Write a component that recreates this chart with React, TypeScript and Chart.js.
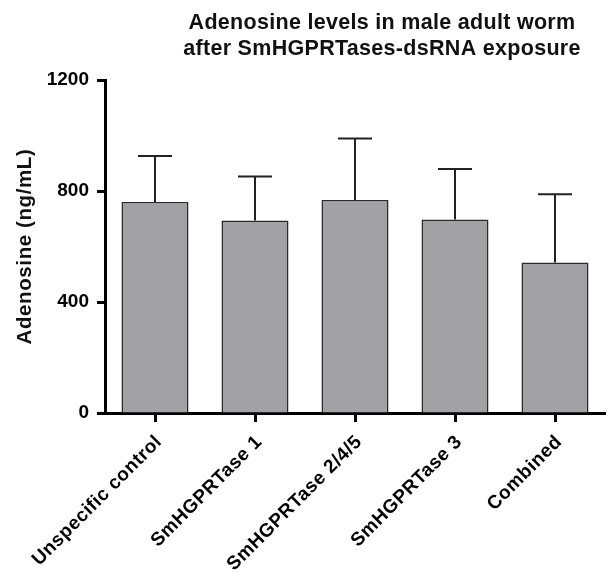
import React, { useEffect, useRef } from "react";
import { Chart, registerables } from "chart.js";

Chart.register(...registerables);

const categories = [
  "Unspecific control",
  "SmHGPRTase 1",
  "SmHGPRTase 2/4/5",
  "SmHGPRTase 3",
  "Combined",
];
const means = [760, 694, 768, 697, 542];
const errors = [166, 158, 221, 182, 246];
const yTicks = [0, 400, 800, 1200];
const titleLines = [
  "Adenosine levels in male adult worm",
  "after SmHGPRTases-dsRNA exposure",
];
const yTitle = "Adenosine (ng/mL)";

const FONT = "'Liberation Sans', Arial, sans-serif";

const errorBarPlugin = {
  id: "errorBars",
  afterDatasetsDraw(chart: any) {
    const meta = chart.getDatasetMeta(0);
    const yScale = chart.scales.y;
    const ctx = chart.ctx;
    ctx.save();
    ctx.strokeStyle = "#222";
    ctx.lineWidth = 2;
    meta.data.forEach((el: any, i: number) => {
      const top = yScale.getPixelForValue(means[i] + errors[i]);
      const x = el.x;
      ctx.beginPath();
      ctx.moveTo(x, el.y);
      ctx.lineTo(x, top);
      ctx.moveTo(x - 17, top);
      ctx.lineTo(x + 17, top);
      ctx.stroke();
    });
    ctx.restore();
  },
};

const textPlugin = {
  id: "customText",
  afterDraw(chart: any) {
    const ctx = chart.ctx;
    const area = chart.chartArea;
    const xScale = chart.scales.x;
    ctx.save();
    ctx.fillStyle = "#111";
    // chart title
    ctx.font = `bold 21.5px ${FONT}`;
    (ctx as any).letterSpacing = "0.3px";
    ctx.textAlign = "center";
    ctx.textBaseline = "alphabetic";
    titleLines.forEach((line, i) => {
      ctx.fillText(line, 382, 28.5 + i * 26.5);
    });
    // y-axis title
    ctx.save();
    ctx.font = `bold 20.5px ${FONT}`;
    (ctx as any).letterSpacing = "0.6px";
    ctx.translate(25, (area.top + area.bottom) / 2);
    ctx.rotate(-Math.PI / 2);
    ctx.textAlign = "center";
    ctx.textBaseline = "middle";
    ctx.fillText(yTitle, 0, 0);
    ctx.restore();
    // x-axis category labels
    ctx.font = `bold 19px ${FONT}`;
    (ctx as any).letterSpacing = "0.5px";
    ctx.fillStyle = "#000";
    categories.forEach((label, i) => {
      const x = xScale.getPixelForValue(i);
      ctx.save();
      ctx.translate(x + 4, area.bottom + 26);
      ctx.rotate(-Math.PI / 4);
      ctx.textAlign = "right";
      ctx.textBaseline = "middle";
      ctx.fillText(label, 0, 0);
      ctx.restore();
    });
    ctx.restore();
  },
};

export default function App() {
  const ref = useRef<HTMLCanvasElement | null>(null);
  useEffect(() => {
    if (!ref.current) return;
    const chart = new Chart(ref.current, {
      type: "bar",
      data: {
        labels: categories,
        datasets: [
          {
            data: means,
            backgroundColor: "#A2A1A6",
            borderColor: "#2a2a2a",
            borderWidth: 1.5,
            barPercentage: 0.67,
            categoryPercentage: 1,
          },
        ],
      },
      options: {
        animation: false,
        responsive: true,
        maintainAspectRatio: false,
        layout: { padding: { top: 80, right: 3, left: 0, bottom: 0 } },
        plugins: {
          legend: { display: false },
          title: { display: false },
          tooltip: { enabled: false },
        },
        scales: {
          x: {
            offset: true,
            grid: {
              display: true,
              offset: false,
              drawOnChartArea: false,
              drawTicks: true,
              tickLength: 9,
              tickWidth: 3,
              tickColor: "#000",
            },
            border: { display: true, color: "#000", width: 3 },
            ticks: { display: false },
            afterFit(scale: any) {
              scale.height = 166;
            },
          },
          y: {
            min: 0,
            max: 1200,
            afterBuildTicks(scale: any) {
              scale.ticks = yTicks.map((v) => ({ value: v }));
            },
            grid: {
              display: true,
              drawOnChartArea: false,
              drawTicks: true,
              tickLength: 8,
              tickWidth: 3,
              tickColor: "#000",
            },
            border: { display: true, color: "#000", width: 3 },
            ticks: {
              color: "#000",
              font: { family: FONT, size: 19, weight: "bold" },
              padding: 8,
              callback: (v: any) => String(v),
            },
            title: { display: false },
            afterFit(scale: any) {
              scale.width = 105;
            },
          },
        },
      },
      plugins: [errorBarPlugin, textPlugin],
    });
    return () => chart.destroy();
  }, []);
  return (
    <div style={{ position: "fixed", left: 0, top: 0, width: 608, height: 579 }}>
      <canvas ref={ref} />
    </div>
  );
}
